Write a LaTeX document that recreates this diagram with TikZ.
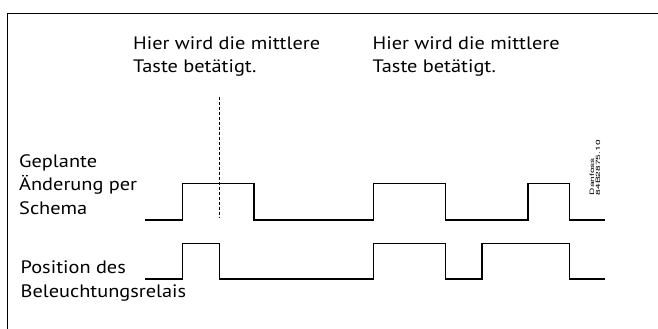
\documentclass[tikz,border=0pt]{standalone}
\usepackage{fontspec}
\setmainfont{PT Sans}[FakeStretch=1.13]
\newfontfamily\codefont{TeX Gyre Heros}[FakeStretch=1.7]
\begin{document}
\begin{tikzpicture}[x=1pt,y=-1pt,
  lbl/.style={inner sep=0pt, anchor=base west, align=left, font=\fontsize{18}{23.5}\selectfont},
  wave/.style={line width=1.1pt, line join=miter},
  frameline/.style={line width=1pt},
  marker/.style={line width=0.7pt, dash pattern=on 3pt off 2pt}]
\useasboundingbox (0,0) rectangle (658,329);
% frame
\draw[frameline] (7.5,329) -- (7.5,14) -- (658,14);
% annotations (anchor = baseline of last line)
\node[lbl] (ann1) at (133,73) {Hier wird die mittlere\\Taste betätigt.};
\node[lbl] (ann2) at (372.5,73) {Hier wird die mittlere\\Taste betätigt.};
% labels
\node[lbl] (lab1) at (19,214) {Geplante\\Änderung per\\Schema};
\node[lbl] (lab2) at (20.5,297) {Position des\\Beleuchtungsrelais};
% code
\node[inner sep=0pt, anchor=north west, rotate=90, align=left,
      font=\codefont\fontsize{6}{6}\selectfont] (code) at (589.5,195.5)
      {Danfoss\\84B2875.10};
% marker line
\coordinate (mtop) at (219.3,96.5);
\coordinate (mbot) at (219.3,217);
\draw[marker] (mtop) -- (mbot);
% planned change per schedule
\draw[wave] (145,220) -- (182.7,220) -- (182.7,183.5) -- (254,183.5) -- (254,220)
  -- (373.3,220) -- (373.3,183.5) -- (445.3,183.5) -- (445.3,220)
  -- (528,220) -- (528,183.5) -- (569.3,183.5) -- (569.3,220) -- (605.3,220);
% relay position
\draw[wave] (145,279) -- (182.7,279) -- (182.7,243.5) -- (219.3,243.5) -- (219.3,279)
  -- (373.3,279) -- (373.3,243.5) -- (445.3,243.5) -- (445.3,279)
  -- (482,279) -- (482,243.5) -- (569.3,243.5) -- (569.3,279) -- (605.3,279);
\end{tikzpicture}
\end{document}
